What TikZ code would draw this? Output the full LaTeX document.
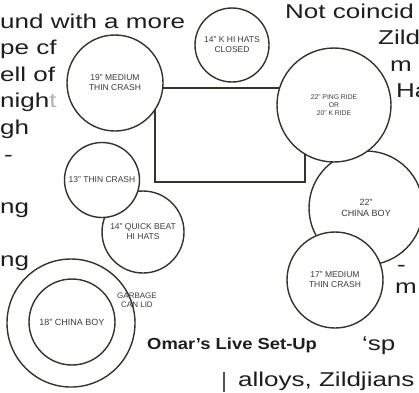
\documentclass[tikz,border=0pt]{standalone}
\usepackage{fontspec}
\setmainfont{Liberation Sans}
\definecolor{ink}{HTML}{34342C}
\definecolor{txt}{HTML}{1E1E1E}
\definecolor{lab}{HTML}{3C3C3C}
\definecolor{barc}{HTML}{4A5A48}
\newcommand{\wide}[1]{\scalebox{1.3}[1]{#1}}
\newcommand{\capwide}[1]{\scalebox{1.15}[1]{#1}}
\tikzset{
  body/.style={anchor=base west, inner sep=0, text=txt, font=\fontsize{20}{20}\selectfont},
  captext/.style={anchor=base west, inner sep=0, text=txt, font=\bfseries\fontsize{16}{16}\selectfont},
  cym/.style={circle, draw=ink, line width=1.4pt, fill=white, inner sep=0, align=center,
    text=lab, font=\fontsize{8.5}{10}\selectfont},
  lbl/.style={inner sep=0, align=center, text=lab, font=\fontsize{8}{9.5}\selectfont},
  riser/.style={draw=ink, line width=1.4pt}
}
\begin{document}
\begin{tikzpicture}[x=1pt,y=-1pt]
\clip (0,0) rectangle (419,392);
\fill[white] (0,0) rectangle (419,392);
% surrounding column text
\node[body] (l1) at (0,28) {\wide{und with a more}};
\node[body] (l2) at (0,54) {\wide{pe cf}};
\node[body] (l3) at (0,81) {\wide{ell of}};
\node[body] (l4) at (0,107) {\wide{nigh\textcolor{black!30}{t}}};
\node[body] (l5) at (0,134) {\wide{gh}};
\node[body] (l6) at (4,161) {\wide{-}};
\node[body] (l8) at (0,213) {\wide{ng}};
\node[body] (l10) at (0,266) {\wide{ng}};
\node[body] (r1) at (285,18) {\wide{Not coincid}};
\node[body] (r2) at (378,44) {\wide{Zild}};
\node[body] (r3) at (390,71) {\wide{m}};
\node[body] (r4) at (396,97) {\wide{Ha}};
\node[body] (r4b) at (397,271) {\wide{-}};
\node[body] (r5) at (395,293) {\wide{m}};
\node[body] (r6) at (362,350) {\wide{‘sp}};
\node[body] (r7) at (238,386) {\wide{alloys, Zildjians}};
\draw[barc, line width=1.5pt] (224,372) -- (224,392);
\node[captext] (cap) at (147,349) {\capwide{Omar’s Live Set-Up}};
% riser
\draw[riser] (155,88) rectangle (305,182);
% cymbals
\node[cym, minimum size=74] (k14) at (232,45) {14" K HI HATS\\CLOSED};
\node[cym, minimum size=96] (c19) at (115,83) {19" MEDIUM\\THIN CRASH};
\node[cym, minimum size=114, font=\fontsize{9}{10.5}\selectfont] (ch22) at (366,208) {22"\\CHINA BOY};
\node[cym, minimum size=96] (c17) at (335,280) {17" MEDIUM\\THIN CRASH};
\node[cym, minimum size=114, font=\fontsize{6.8}{8}\selectfont] (ping) at (334,105) {22" PING RIDE\\OR\\20" K RIDE};
\node[cym, minimum size=82] (qb) at (143,232) {14" QUICK BEAT\\HI HATS};
\node[cym, minimum size=75] (c13) at (102,180) {13" THIN CRASH};
\node[cym, minimum size=128] (lid) at (71,323) {};
\node[cym, minimum size=86, font=\fontsize{9}{10}\selectfont] (ch18) at (72,322) {18" CHINA BOY};
\node[lbl] (gl) at (137,300) {GARBAGE\\CAN LID};
\end{tikzpicture}
\end{document}
